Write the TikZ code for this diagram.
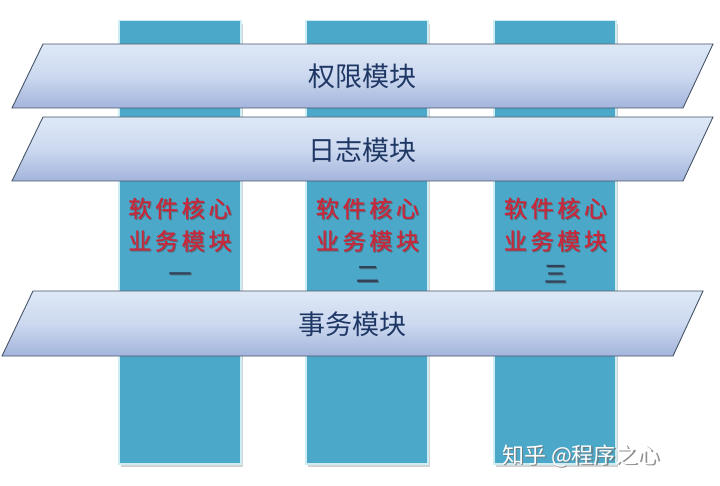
\documentclass[tikz,border=0pt]{standalone}
\usepackage{fontspec}
\newfontfamily\cjk{Noto Sans CJK SC}
\newfontfamily\cjksp[LetterSpace=16,FakeBold=1.2]{Noto Sans CJK SC}
\usetikzlibrary{shadows}
\definecolor{colfill}{RGB}{75,168,200}
\definecolor{coledge}{RGB}{205,236,244}
\definecolor{bartop}{RGB}{222,232,247}
\definecolor{barbot}{RGB}{163,180,220}
\definecolor{baredge}{RGB}{70,84,104}
\definecolor{bartext}{RGB}{30,55,100}
\definecolor{redtext}{RGB}{200,40,60}
\definecolor{numtext}{RGB}{50,65,90}
\tikzset{
  colbox/.style={fill=colfill, draw=coledge, line width=1.5pt, inner sep=0pt,
    minimum width=122pt, minimum height=443pt, anchor=north west,
    drop shadow={opacity=0.35, shadow xshift=2pt, shadow yshift=-3pt}},
  barshape/.style={top color=bartop, bottom color=barbot, middle color=bartop!70!barbot, draw=baredge, line width=0.9pt},
  bartxt/.style={font=\cjk\fontsize{27}{30}\selectfont, text=bartext, inner sep=0pt},
  coltxt/.style={font=\cjksp\fontsize{23}{32.5}\selectfont, text=redtext, align=center, inner sep=0pt},
  colshadow/.style={coltxt, text=black!70, opacity=0.5},
  wmark/.style={font=\cjk\fontsize{22}{24}\selectfont, text=white, inner sep=0pt},
  wmshadow/.style={wmark, text=black!55, opacity=0.8}
}
\newcommand{\coltext}[1]{软件核心\\业务模块\\\textcolor{numtext}{#1}}
\begin{document}
\begin{tikzpicture}[x=1pt,y=-1pt]
\useasboundingbox (0,0) rectangle (720,486);
% columns
\node[colbox] (c1) at (118,20) {};
\node[colbox] (c2) at (305,20) {};
\node[colbox] (c3) at (493,20) {};
% bars
\shade[barshape] (12,108) -- (43,44) -- (713,44) -- (683,108) -- cycle;
\node[bartxt] (perm) at (362,76) {权限模块};
\shade[barshape] (12,181) -- (43,117) -- (713,117) -- (683,181) -- cycle;
\node[bartxt] (log) at (362,150) {日志模块};
\shade[barshape] (2,356) -- (33,291) -- (703,291) -- (673,356) -- cycle;
\node[bartxt] (tx) at (352,324) {事务模块};
% column texts
\node[colshadow] (s1) at (181,241) {软件核心\\业务模块\\一};
\node[colshadow] (s2) at (368.5,241) {软件核心\\业务模块\\二};
\node[colshadow] (s3) at (556.5,241) {软件核心\\业务模块\\三};
\node[coltxt] (t1) at (180,240) {\coltext{一}};
\node[coltxt] (t2) at (367.5,240) {\coltext{二}};
\node[coltxt] (t3) at (555.5,240) {\coltext{三}};
% watermark
\node[wmshadow, anchor=west] (wms) at (503.2,457.2) {知乎 @程序之心};
\node[wmark, anchor=west] (wm) at (502,456) {知乎 @程序之心};
\end{tikzpicture}
\end{document}
